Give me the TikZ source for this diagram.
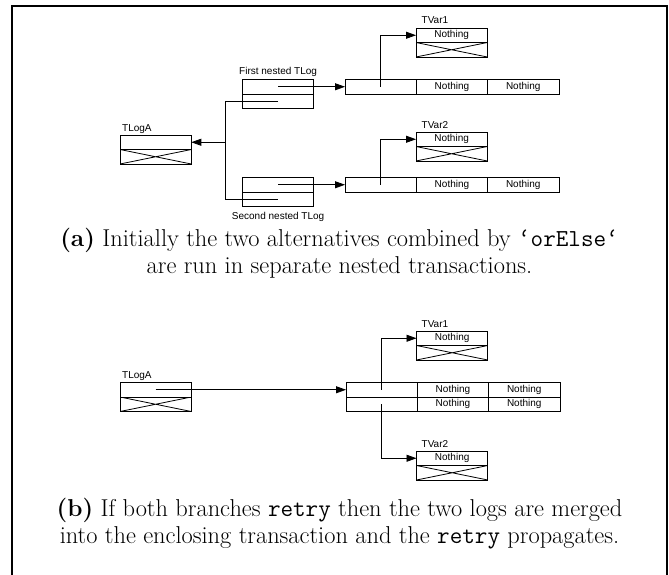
\documentclass[tikz,border=0pt]{standalone}
\usepackage{fontspec}
\newfontfamily\sanslbl{Liberation Sans}
\usetikzlibrary{arrows.meta}
\newcommand\capfnt{\fontsize{24.4}{29}\selectfont}
\tikzset{
  cell/.style={draw, line width=0.8pt, inner sep=0pt, outer sep=0pt, anchor=north west,
    minimum width=71.3pt, minimum height=14.5pt, font=\sanslbl\fontsize{10}{12}\selectfont},
  xcell/.style={cell, path picture={\draw[line width=0.8pt]
    (path picture bounding box.north west) -- (path picture bounding box.south east)
    (path picture bounding box.south west) -- (path picture bounding box.north east);}},
  conn/.style={line width=0.8pt},
  arr/.style={conn, -{Triangle[length=10pt,width=7pt]}},
  lbl/.style={font=\sanslbl\fontsize{10}{12}\selectfont, inner sep=0pt, anchor=base west},
  clbl/.style={lbl, anchor=base},
  captxt/.style={font=\capfnt, inner sep=0pt, anchor=base},
  framestyle/.style={line width=2pt}
}
\begin{document}
\begin{tikzpicture}[x=1pt,y=-1pt]
\useasboundingbox (0,0) rectangle (669,574);
\draw[framestyle] (12,580) -- (12,6) -- (666.5,6) -- (666.5,580);

% ---------- (a) ----------
\node[cell]  (aL1) at (120,135) {};
\node[xcell] (aL2) at (120,149.5) {};
\node[lbl] (aLl) at (122,131) {TLogA};

\node[cell] (n1a) at (242.5,79.5) {};
\node[cell] (n1b) at (242.5,94) {};
\node[clbl] (n1l) at (278.1,74.5) {First nested TLog};

\node[cell] (n2a) at (242.5,177.5) {};
\node[cell] (n2b) at (242.5,192) {};
\node[clbl] (n2l) at (278.1,219.5) {Second nested TLog};

\node[cell] (t1a) at (345,79.5) {};
\node[cell] (t1b) at (416.3,79.5) {Nothing};
\node[cell] (t1c) at (487.6,79.5) {Nothing};

\node[cell]  (v1a) at (416,28) {Nothing};
\node[xcell] (v1b) at (416,42.5) {};
\node[lbl] (v1l) at (421.5,23.5) {TVar1};

\node[cell] (t2a) at (345,177.5) {};
\node[cell] (t2b) at (416.3,177.5) {Nothing};
\node[cell] (t2c) at (487.6,177.5) {Nothing};

\node[cell]  (v2a) at (416,132) {Nothing};
\node[xcell] (v2b) at (416,146.5) {};
\node[lbl] (v2l) at (421.5,128) {TVar2};

\coordinate (jA) at (225,142.25);
\draw[conn] (n1b.center) -- (n1b.center -| jA) -- (n2b.center -| jA) -- (n2b.center);
\draw[arr] (jA) -- (aL1.east);
\draw[arr] (n1a.center) -- (t1a.west);
\draw[arr] (n2a.center) -- (t2a.west);
\draw[arr] (t1a.center) |- (v1a.west);
\draw[arr] (t2a.center) |- (v2a.west);

\node[captxt] (ca1) at (339.5,246) {\textbf{(a)} Initially the two alternatives combined by \texttt{‘orElse‘}};
\node[captxt] (ca2) at (339.5,273) {are run in separate nested transactions.};

% ---------- (b) ----------
\node[cell]  (bL1) at (120,382.5) {};
\node[xcell] (bL2) at (120,397) {};
\node[lbl] (bLl) at (122,378.5) {TLogA};

\node[cell] (b11) at (346,382.5) {};
\node[cell] (b12) at (417.3,382.5) {Nothing};
\node[cell] (b13) at (488.6,382.5) {Nothing};
\node[cell] (b21) at (346,397) {};
\node[cell] (b22) at (417.3,397) {Nothing};
\node[cell] (b23) at (488.6,397) {Nothing};

\node[cell]  (w1a) at (416.5,331) {Nothing};
\node[xcell] (w1b) at (416.5,345.5) {};
\node[lbl] (w1l) at (421.5,327) {TVar1};

\node[cell]  (w2a) at (416.5,451) {Nothing};
\node[xcell] (w2b) at (416.5,465.5) {};
\node[lbl] (w2l) at (421.5,447) {TVar2};

\draw[arr] (bL1.center) -- (b11.west);
\draw[arr] (b11.center) |- (w1a.west);
\draw[arr] (b21.center) |- (w2a.west);

\node[captxt] (cb1) at (339.5,516) {\textbf{(b)} If both branches \texttt{retry} then the two logs are merged};
\node[captxt] (cb2) at (339.5,543) {into the enclosing transaction and the \texttt{retry} propagates.};
\end{tikzpicture}
\end{document}
